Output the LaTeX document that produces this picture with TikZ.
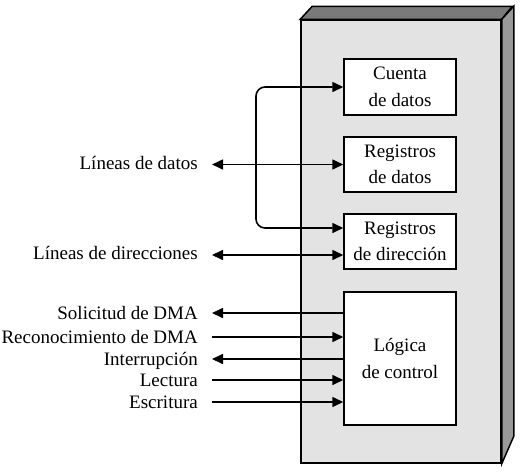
\documentclass[tikz,border=0pt]{standalone}
\usepackage{fontspec}
\setmainfont{Liberation Serif}
\usetikzlibrary{arrows.meta}

\begin{document}
\begin{tikzpicture}[x=1pt,y=-1pt]
  \tikzstyle{every node}=[font=\fontsize{19}{26.5}\selectfont, text=black]
  \tikzstyle{box}=[draw=black, line width=1.5pt, fill=white, minimum width=112pt, align=center, inner sep=0pt]
  \tikzstyle{lbl}=[anchor=east, inner sep=2pt, text height=13pt, text depth=0pt]
  \tikzstyle{wire}=[line width=1.6pt, >={Triangle[length=11pt,width=10pt]}]
  \useasboundingbox (0,0) rectangle (520,472);

  % the device, drawn as a block
  \node[draw=black, line width=1.5pt, fill=black!11, minimum width=200pt, minimum height=443pt, inner sep=0pt] (dev) at (401,241.5) {};
  \draw[line width=1.5pt, fill=black!52] (dev.north west) -- ++(12,-13) -- ++(200,0) -- (dev.north east) -- cycle;
  \draw[line width=1.5pt, fill=black!40] (dev.north east) -- ++(12,-13) -- ++(0,430) -- (dev.south east) -- cycle;

  \node[box, minimum height=56pt] (cd) at (400,87) {Cuenta\\de datos};
  \node[box, minimum height=55pt] (rdat) at (400,164.5) {Registros\\de datos};
  \node[box, minimum height=55pt] (rdir) at (400,241.5) {Registros\\de dirección};
  \node[box, minimum height=133pt] (ctl) at (400,358.5) {Lógica\\de control};

  \node[lbl] (ld) at (200,163) {Líneas de datos};
  \node[lbl] (ldir) at (200,253) {Líneas de direcciones};
  \node[lbl] (sol) at (200,313) {Solicitud de DMA};
  \node[lbl] (rec) at (200,337) {Reconocimiento de DMA};
  \node[lbl] (int) at (200,359) {Interrupción};
  \node[lbl] (lec) at (200,380) {Lectura};
  \node[lbl] (esc) at (200,402) {Escritura};

  \coordinate (k) at (256,160);

  \draw[wire, <->, rounded corners=9pt] ([yshift=13.5pt]rdir.west) -| (k) |- (cd.west);
  \draw[wire, <->, shorten <=12pt] (ld.east |- rdat.west) -- (rdat.west);
  \draw[wire, <->, shorten <=12pt] (ldir.east |- rdir.west) ++(0,13.5) -- ([yshift=-13.5pt]rdir.west);
  \draw[wire, <-, shorten <=12pt] (sol.east) -- (sol.east -| ctl.west);
  \draw[wire, ->, shorten <=12pt] (rec.east) -- (rec.east -| ctl.west);
  \draw[wire, <-, shorten <=12pt] (int.east) -- (int.east -| ctl.west);
  \draw[wire, ->, shorten <=12pt] (lec.east) -- (lec.east -| ctl.west);
  \draw[wire, ->, shorten <=12pt] (esc.east) -- (esc.east -| ctl.west);
\end{tikzpicture}
\end{document}
